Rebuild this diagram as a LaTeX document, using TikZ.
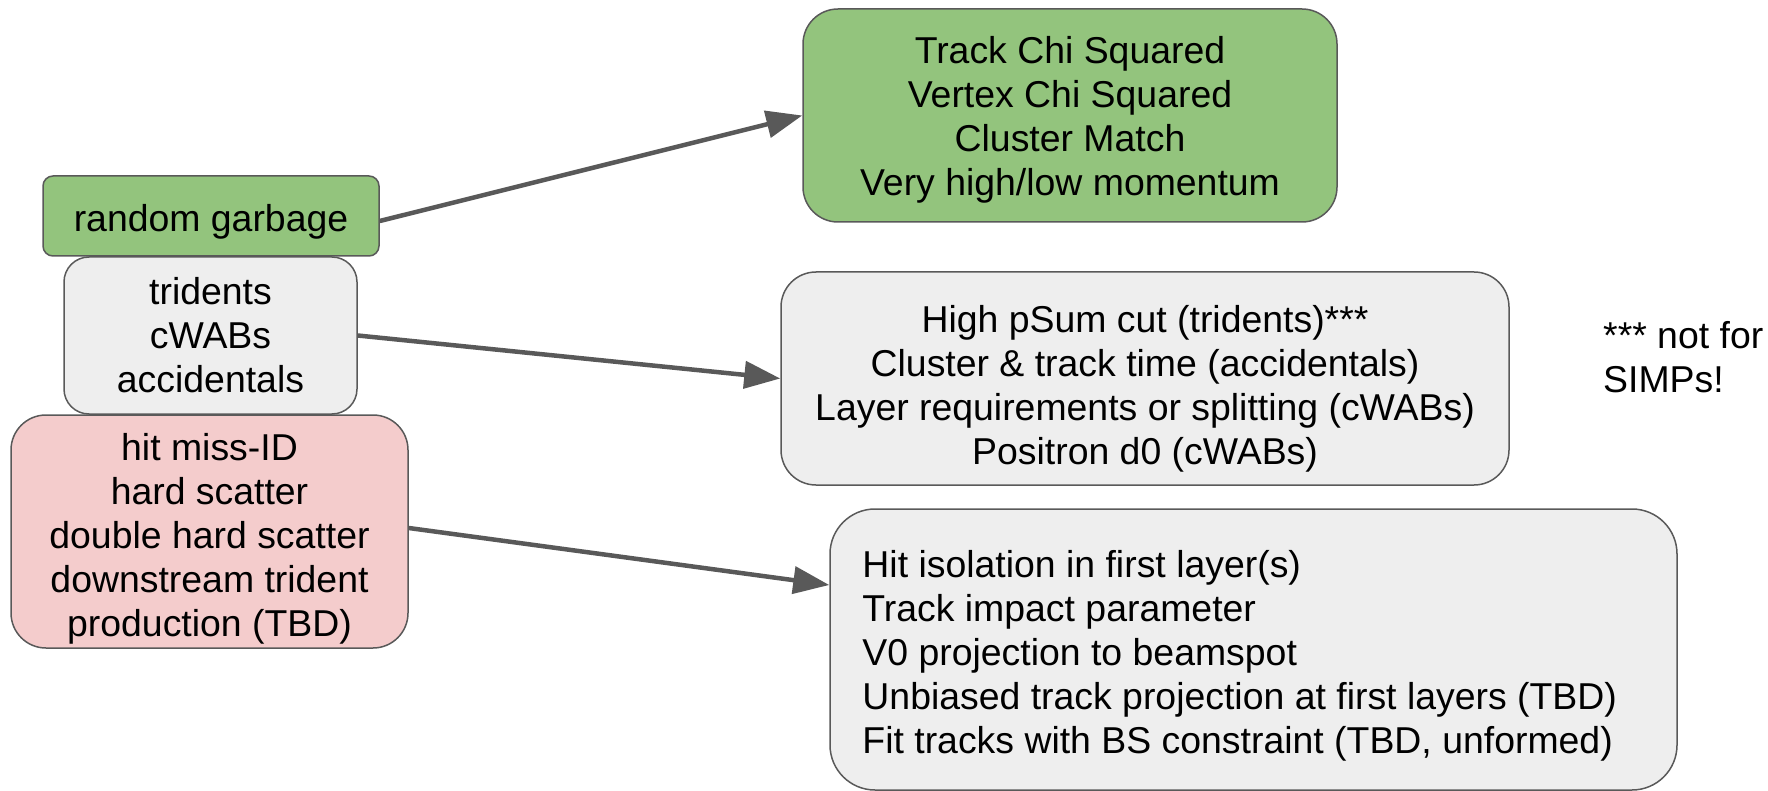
\documentclass[tikz,border=0pt]{standalone}
\usepackage{fontspec}
\setmainfont{Liberation Sans}
\usetikzlibrary{arrows.meta}
\usetikzlibrary{positioning}

\definecolor{boxgreen}{HTML}{93C47D}
\definecolor{boxgrey}{HTML}{EEEEEE}
\definecolor{boxpink}{HTML}{F4CCCC}
\definecolor{edgegrey}{HTML}{595959}

\tikzset{
  box/.style={draw=edgegrey, line width=1.5pt, inner sep=0pt},
  txt/.style={align=center, inner sep=0pt, font=\fontsize{37.4}{44}\selectfont},
  link/.style={draw=edgegrey, line width=4.5pt, -{Triangle[length=36pt,width=27pt]}},
}

\begin{document}
\begin{tikzpicture}[x=1pt, y=-1pt]
  \useasboundingbox (0,0) rectangle (1768,791);

  % event sources
  \node[box, fill=boxgreen, rounded corners=10pt, minimum width=336pt, minimum height=80pt]
    (garbage) at (211,216) {};
  \node[txt] (garbage-t) at ([yshift=-5.5pt]garbage.center) {random garbage};
  \node[box, fill=boxgrey, rounded corners=25pt, minimum width=293pt, minimum height=157pt]
    (tridents) at (210.5,335.5) {};
  \node[txt] (tridents-t) at (tridents.center) {tridents\\cWABs\\accidentals};
  \node[box, fill=boxpink, rounded corners=35pt, minimum width=397pt, minimum height=233pt]
    (hits) at (209.5,531.5) {};
  \node[txt] (hits-t) at ([yshift=-7pt]hits.center)
    {hit miss-ID\\hard scatter\\double hard scatter\\downstream trident\\production (TBD)};

  % cuts
  \node[box, fill=boxgreen, rounded corners=35pt, minimum width=534pt, minimum height=213pt]
    (quality) at (1070,115.5) {};
  \node[txt] (quality-t) at ([yshift=-4.5pt]quality.center)
    {Track Chi Squared\\Vertex Chi Squared\\Cluster Match\\Very high/low momentum};
  \node[box, fill=boxgrey, rounded corners=35pt, minimum width=728pt, minimum height=213pt]
    (timing) at (1145,378.5) {};
  \node[txt] (timing-t) at ([yshift=-10pt]timing.center)
    {High pSum cut (tridents)***\\Cluster \& track time (accidentals)\\Layer requirements or splitting (cWABs)\\Positron d0 (cWABs)};
  \node[box, fill=boxgrey, rounded corners=45pt, minimum width=847pt, minimum height=281pt]
    (isolation) at (1253.5,649.5) {};
  \node[txt, align=left, anchor=west] (isolation-t) at ([xshift=33pt, yshift=-6pt]isolation.west)
    {Hit isolation in first layer(s)\\Track impact parameter\\V0 projection to beamspot\\Unbiased track projection at first layers (TBD)\\Fit tracks with BS constraint (TBD, unformed)};

  % note
  \node[txt, align=left, anchor=west] (note) at (1603,357) {*** not for\\SIMPs!};

  % arrows
  \draw[link] ([yshift=-5pt]garbage.east) -- (quality.west);
  \draw[link] (tridents.east) -- (timing.west);
  \draw[link] ([yshift=3.5pt]hits.east) -- ([yshift=64.5pt]isolation.west);
\end{tikzpicture}
\end{document}
